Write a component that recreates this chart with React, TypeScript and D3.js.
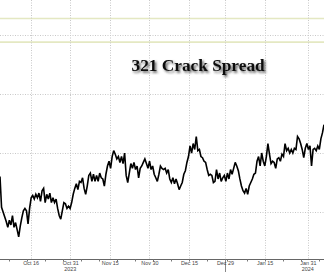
import React, { useEffect, useRef } from "react";
import * as d3 from "d3";

const W = 324;
const H = 272;

// Series: 321 crack spread ($/bbl), evenly spaced intraday samples
const startDay = -8.5; // trading days relative to Oct 16, 2023
const endDay = 81.5;
const spread: number[] = [
  23.0, 20.4, 20.0, 19.6, 19.2, 18.7, 19.3, 18.9, 19.7, 18.7, 19.1, 18.5, 17.9, 18.8, 19.5, 20.1,
  20.3, 20.1, 19.0, 20.3, 21.2, 21.4, 21.1, 21.5, 21.2, 21.6, 20.9, 21.8, 22.0, 20.8, 21.5, 21.1,
  21.6, 20.8, 21.2, 20.8, 21.1, 20.3, 19.7, 19.4, 20.1, 20.8, 20.7, 20.3, 20.5, 20.3, 20.8, 21.5,
  22.0, 22.4, 21.9, 22.6, 22.5, 22.9, 22.0, 21.5, 22.2, 23.1, 23.3, 22.6, 23.2, 22.6, 23.1, 22.6,
  23.3, 22.9, 22.8, 22.2, 23.2, 23.9, 24.3, 23.7, 24.7, 25.2, 24.9, 24.5, 24.7, 24.2, 24.7, 24.1,
  25.0, 23.1, 22.5, 23.3, 24.1, 23.7, 24.2, 23.6, 23.9, 22.9, 23.7, 23.9, 24.2, 24.5, 24.1, 23.7,
  24.3, 23.6, 23.9, 23.2, 22.9, 22.6, 23.2, 23.9, 23.7,
  23.6, 23.7, 23.3, 23.6, 22.8, 22.5, 22.9, 22.4, 22.8, 22.4, 21.9, 22.2, 22.5, 23.2, 23.5, 24.2,
  24.7, 25.6, 25.0, 25.8, 25.3, 26.4, 25.2, 25.3, 24.7, 24.6, 24.3, 24.2, 23.6, 23.1, 23.2, 23.1,
  22.5, 22.6, 23.6, 22.8, 23.3, 22.6, 22.9, 23.1, 22.6, 23.3, 22.8, 23.6, 23.2, 23.7, 24.2, 23.9,
  23.5, 22.8, 22.2, 21.8, 21.6, 22.0, 21.5, 22.2, 22.5, 22.8, 23.2, 23.3, 24.3, 24.7, 23.9, 25.0,
  24.3, 23.9, 24.7, 25.8, 24.9, 24.1, 24.3, 24.2, 23.7, 24.5, 24.6, 24.3, 24.9, 24.7, 25.8, 25.2,
  25.4, 25.0, 25.3, 25.0, 25.4, 25.3, 26.4, 26.2, 25.8, 25.3, 24.6, 25.4, 25.8, 25.3, 25.6, 23.9,
  25.3, 25.4, 25.2, 25.6, 25.3, 26.2, 26.7, 27.4,
];

// X axis ticks (trading-day index relative to Oct 16, 2023)
const tickDays = [0, 11, 22, 33, 44, 54, 65, 77];
const tickLabels = ["Oct 16", "Oct 31", "Nov 15", "Nov 30", "Dec 15", "Dec 29", "Jan 15", "Jan 31"];
const yearDays = [11, 77];
const yearLabels = ["2023", "2024"];
const yearBreakDay = 54;
const minorTickDays = [-6, -1, 4, 9, 14, 19, 24, 29, 34, 39, 44, 49, 54.5, 60, 65, 70, 75, 80];

// Y gridlines
const yGrid = [20, 25, 30, 35];
const yBands = [36.4, 34.4];

const title = "321 Crack Spread";

export default function App() {
  const ref = useRef<SVGSVGElement>(null);

  useEffect(() => {
    const svg = d3.select(ref.current);
    svg.selectAll("*").remove();

    const x = d3.scaleLinear().domain([startDay, endDay]).range([0, W]);
    const y = d3.scaleLinear().domain([20, 35]).range([212, 35]);
    const axisY = 259.5;

    const defs = svg.append("defs");
    const f = defs.append("filter").attr("id", "shadow").attr("x", "-10%").attr("y", "-30%").attr("width", "130%").attr("height", "180%");
    f.append("feDropShadow").attr("dx", 1.6).attr("dy", 1.8).attr("stdDeviation", 1).attr("flood-color", "#333").attr("flood-opacity", 0.8);

    svg.append("rect").attr("width", W).attr("height", H).attr("fill", "#fff");

    // yellow bands
    svg.selectAll(".band").data(yBands).enter().append("line")
      .attr("x1", 0).attr("x2", W)
      .attr("y1", (d) => y(d)).attr("y2", (d) => y(d))
      .attr("stroke", "#e4e8c2").attr("stroke-width", 1.6);

    // horizontal grid
    svg.selectAll(".hg").data(yGrid).enter().append("line")
      .attr("x1", 0).attr("x2", W)
      .attr("y1", (d) => Math.round(y(d)) + 0.5).attr("y2", (d) => Math.round(y(d)) + 0.5)
      .attr("stroke", "#c8c8c8").attr("stroke-width", 1).attr("stroke-dasharray", "1,1.5");

    // vertical grid
    svg.selectAll(".vg").data(tickDays).enter().append("line")
      .attr("x1", (d) => Math.round(x(d)) + 0.5).attr("x2", (d) => Math.round(x(d)) + 0.5)
      .attr("y1", 0).attr("y2", axisY)
      .attr("stroke", "#c8c8c8").attr("stroke-width", 1).attr("stroke-dasharray", "1,1.5");

    // title
    svg.append("text")
      .attr("x", 131.5).attr("y", 70.5)
      .attr("font-family", "'Liberation Serif', 'Times New Roman', serif")
      .attr("font-weight", "bold")
      .attr("font-size", 17.3)
      .attr("fill", "#111")
      .attr("filter", "url(#shadow)")
      .text(title);

    // line
    const n = spread.length;
    const tAt = (i: number) => startDay + (i * (endDay - startDay)) / (n - 1);
    const line = d3.line<number>().x((d, i) => x(tAt(i))).y((d) => y(d));
    svg.append("path").datum(spread).attr("d", line)
      .attr("fill", "none").attr("stroke", "#000").attr("stroke-width", 1.6)
      .attr("stroke-linejoin", "miter").attr("stroke-miterlimit", 3);

    // axis line
    svg.append("line").attr("x1", 0).attr("x2", W).attr("y1", axisY).attr("y2", axisY)
      .attr("stroke", "#666").attr("stroke-width", 1);

    svg.selectAll(".mt").data(minorTickDays).enter().append("line")
      .attr("x1", (d) => Math.round(x(d)) + 0.5).attr("x2", (d) => Math.round(x(d)) + 0.5)
      .attr("y1", axisY).attr("y2", axisY + 2)
      .attr("stroke", "#777").attr("stroke-width", 1);

    svg.append("line")
      .attr("x1", Math.round(x(yearBreakDay)) + 0.5).attr("x2", Math.round(x(yearBreakDay)) + 0.5)
      .attr("y1", axisY).attr("y2", H)
      .attr("stroke", "#888").attr("stroke-width", 1);

    svg.selectAll(".tl").data(tickDays).enter().append("text")
      .attr("x", (d) => x(d) + 0.5).attr("y", 264.5)
      .attr("text-anchor", "middle")
      .attr("font-family", "'Liberation Sans', Arial, sans-serif")
      .attr("font-size", 5.4)
      .attr("fill", "#444")
      .text((d, i) => tickLabels[i]);

    svg.selectAll(".yl").data(yearDays).enter().append("text")
      .attr("x", (d) => x(d)).attr("y", 270.5)
      .attr("text-anchor", "middle")
      .attr("font-family", "'Liberation Sans', Arial, sans-serif")
      .attr("font-size", 5.4)
      .attr("fill", "#444")
      .text((d, i) => yearLabels[i]);
  }, []);

  return (
    <svg
      ref={ref}
      width={W}
      height={H}
      style={{ position: "fixed", left: 0, top: 0, display: "block" }}
    />
  );
}
